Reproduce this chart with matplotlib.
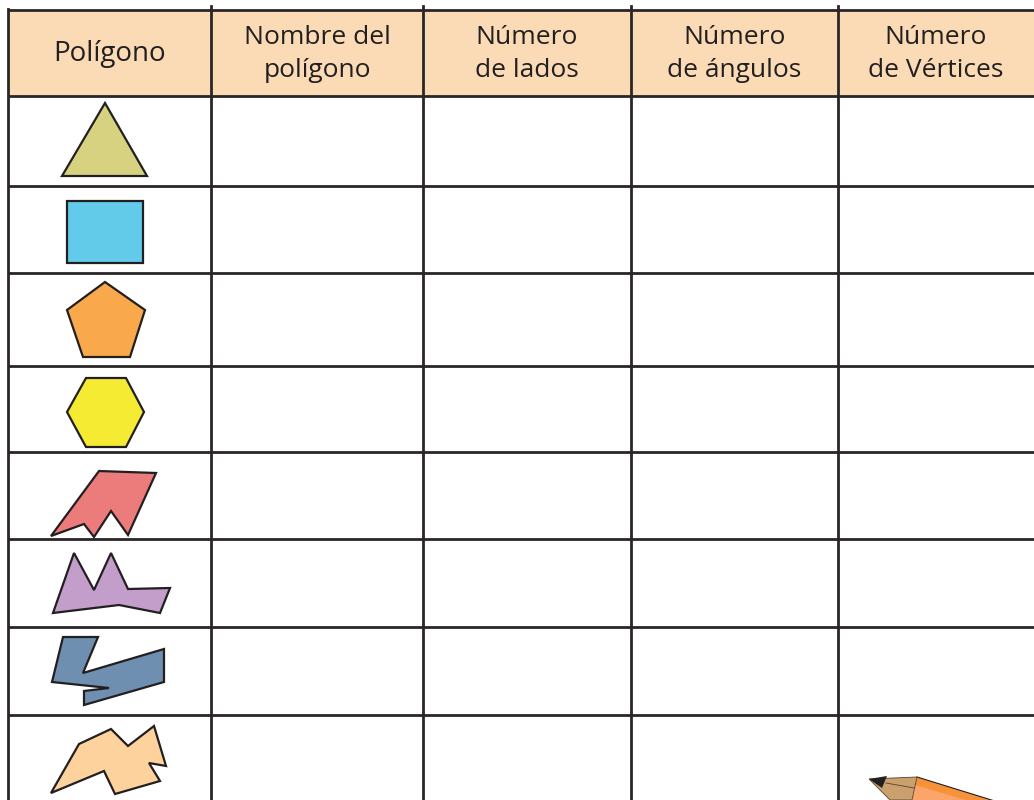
import matplotlib
matplotlib.use("Agg")
import matplotlib.pyplot as plt
from matplotlib.patches import Polygon, Rectangle

headers = ["Polígono", "Nombre del\npolígono", "Número\nde lados", "Número\nde ángulos", "Número\nde Vértices"]
col_edges = [8, 211, 423, 631, 838, 1034]
row_edges = [10, 96, 186, 273, 366, 452, 539, 627, 715, 800]

triangle = [(105, 103), (62, 176), (147, 176)]
square = [(67, 201), (143, 201), (143, 263), (67, 263)]
pentagon = [(105, 282), (145, 310), (130, 357), (83, 357), (67, 310)]
hexagon = [(86, 378), (126, 378), (144, 412), (126, 447), (86, 447), (67, 412)]
red_shape = [(99, 471), (156, 473), (128, 535), (111, 511), (94, 537), (84, 524), (51, 536)]
purple_shape = [(74, 553), (94, 590), (111, 553), (128, 589), (170, 588), (160, 613), (119, 605), (53, 613)]
blue_shape = [(63, 637), (98, 637), (83, 673), (164, 649), (164, 682), (84, 705), (84, 691), (109, 688), (52, 682)]
peach_shape = [(51, 793), (79, 744), (111, 729), (128, 746), (154, 726), (166, 766), (149, 763), (160, 781), (115, 794), (104, 771)]

shapes = [triangle, square, pentagon, hexagon, red_shape, purple_shape, blue_shape, peach_shape]
shape_colors = ["#D6D27F", "#62CBEA", "#F9A94B", "#F5EB32", "#EC7B7B", "#C39ECB", "#6F8FB0", "#FDD29D"]

line_col = "#2a2627"
header_bg = "#FADBB6"

fig = plt.figure(figsize=(10.34, 8.0), dpi=100)
ax = fig.add_axes([0, 0, 1, 1])
ax.set_xlim(0, 1034)
ax.set_ylim(800, 0)
ax.axis("off")

# header background
ax.add_patch(Rectangle((col_edges[0], row_edges[0]), col_edges[-1] - col_edges[0],
                       row_edges[1] - row_edges[0], facecolor=header_bg, edgecolor="none", zorder=1))

# horizontal lines
for y in row_edges[:-1]:
    ax.plot([col_edges[0], col_edges[-1]], [y, y], color=line_col, lw=2.0, zorder=3, solid_capstyle="butt")
# vertical lines
ax.plot([col_edges[0], col_edges[0]], [row_edges[0] - 1, 800], color=line_col, lw=2.0, zorder=3)
for x in col_edges[1:-1]:
    ax.plot([x, x], [6, 800], color=line_col, lw=2.0, zorder=3)

# header text
for i, h in enumerate(headers):
    cx = (col_edges[i] + col_edges[i + 1]) / 2
    cy = (row_edges[0] + row_edges[1]) / 2
    fs = 20 if i == 0 else 19
    ax.text(cx, cy + 1, h, ha="center", va="center", fontsize=fs, family="Open Sans",
            color="#231F20", linespacing=1.42, zorder=4)

# polygons
for pts, c in zip(shapes, shape_colors):
    ax.add_patch(Polygon(pts, closed=True, facecolor=c, edgecolor="#231F20", lw=1.6,
                         joinstyle="miter", zorder=4))

# pencil (decorative)
ax.add_patch(Polygon([(917, 777), (1040, 815), (1040, 840), (912, 800)], closed=True,
                     facecolor="#FBA56A", edgecolor="none", zorder=4))
ax.add_patch(Polygon([(917, 777), (1040, 815), (1040, 822), (915, 785)], closed=True,
                     facecolor="#F7923A", edgecolor="none", zorder=4))
ax.plot([917, 1040], [777, 815], color="#231F20", lw=0.8, zorder=5)
ax.add_patch(Polygon([(869, 779), (917, 777), (912, 800), (890, 800)], closed=True,
                     facecolor="#C9A06E", edgecolor="#5a4030", lw=0.6, zorder=5))
ax.plot([886, 914], [783, 788], color="#5a4030", lw=0.6, zorder=6)
ax.add_patch(Polygon([(869, 779), (887, 776), (882, 788)], closed=True,
                     facecolor="#231F20", edgecolor="none", zorder=6))

fig.savefig("out.png", dpi=100)
